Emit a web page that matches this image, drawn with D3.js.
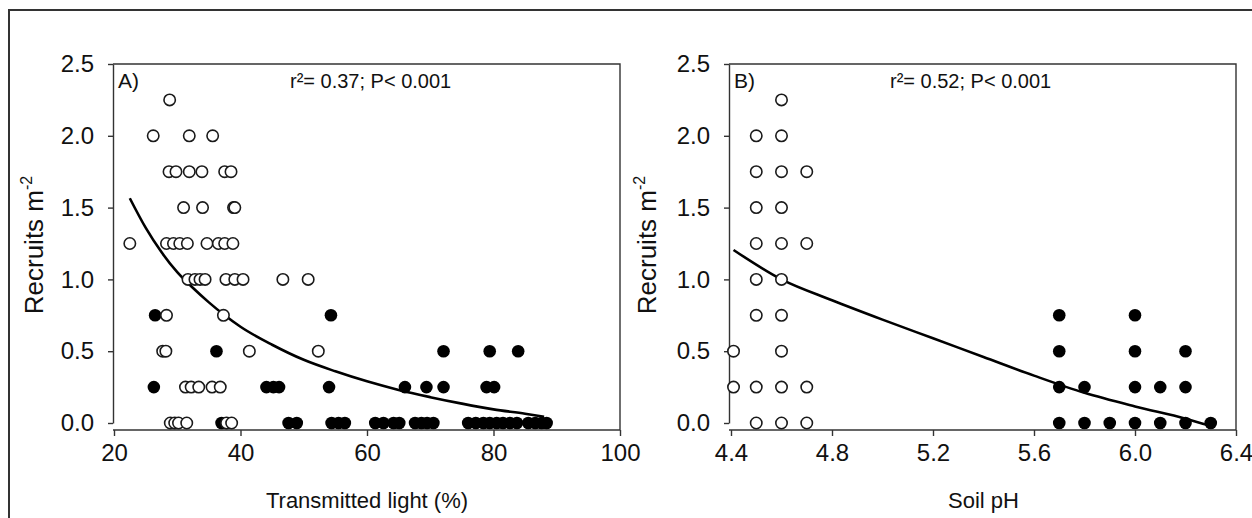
<!DOCTYPE html>
<html>
<head>
<meta charset="utf-8">
<script src="https://cdn.jsdelivr.net/npm/d3@7"></script>
<style>
  body { margin: 0; background: #fff; }
  svg { display: block; font-family: "Liberation Sans", Arial, sans-serif; }
</style>
</head>
<body>
<div id="chart"></div>
<script>
// --- values ---
const yTicks = [0, 0.5, 1.0, 1.5, 2.0, 2.5];
const lightTicks = [20, 40, 60, 80, 100];
const phTicks = [4.4, 4.8, 5.2, 5.6, 6.0, 6.4];

// panel A: transmitted light (%) vs recruits
const lightOpen = [
    [28.8, 2.25],
    [26.2, 2.0], [31.9, 2.0], [35.6, 2.0],
    [28.7, 1.75], [29.8, 1.75], [31.9, 1.75], [33.9, 1.75], [37.5, 1.75], [38.5, 1.75],
    [31.0, 1.5], [34.0, 1.5], [38.9, 1.5], [39.1, 1.5],
    [22.5, 1.25], [28.3, 1.25], [29.4, 1.25], [30.4, 1.25], [31.6, 1.25], [34.7, 1.25], [36.5, 1.25], [37.5, 1.25], [38.8, 1.25],
    [31.7, 1.0], [32.8, 1.0], [33.6, 1.0], [34.4, 1.0], [37.7, 1.0], [39.1, 1.0], [40.4, 1.0], [46.7, 1.0], [50.7, 1.0],
    [28.3, 0.75], [37.3, 0.75],
    [27.7, 0.5], [28.2, 0.5], [41.4, 0.5], [52.3, 0.5],
    [31.3, 0.25], [32.2, 0.25], [33.4, 0.25], [35.5, 0.25], [36.8, 0.25],
    [28.9, 0], [29.6, 0], [30.2, 0], [31.5, 0], [37.8, 0], [38.6, 0]
];
const lightFilled = [
    [26.5, 0.75], [54.3, 0.75],
    [36.2, 0.5], [72.1, 0.5], [79.4, 0.5], [83.9, 0.5],
    [26.3, 0.25], [44.1, 0.25], [45.2, 0.25], [46.1, 0.25], [54.0, 0.25], [66.0, 0.25], [69.4, 0.25], [72.1, 0.25], [78.9, 0.25], [80.1, 0.25],
    [37.0, 0], [47.6, 0], [48.9, 0], [54.4, 0], [55.5, 0], [56.5, 0], [61.3, 0], [62.6, 0], [64.2, 0], [65.1, 0],
    [67.6, 0], [68.6, 0], [69.5, 0], [70.5, 0], [76.0, 0], [77.2, 0], [78.4, 0], [79.4, 0], [80.5, 0], [81.5, 0],
    [82.6, 0], [83.7, 0], [85.5, 0], [86.6, 0], [87.6, 0], [88.4, 0]
];
const lightFit = [
    [22.5, 1.565], [25, 1.36], [27.5, 1.19], [30, 1.05], [32.5, 0.94], [35, 0.84], [37.5, 0.75], [40, 0.67],
    [45, 0.545], [50, 0.44], [55, 0.36], [60, 0.29], [65, 0.23], [70, 0.18], [75, 0.135], [80, 0.095], [85, 0.065], [88, 0.044]
];

// panel B: soil pH vs recruits
const phOpen = [
    [4.6, 2.25], [4.5, 2.0], [4.6, 2.0], [4.5, 1.75], [4.6, 1.75], [4.7, 1.75],
    [4.5, 1.5], [4.6, 1.5], [4.5, 1.25], [4.6, 1.25], [4.7, 1.25], [4.5, 1.0], [4.6, 1.0],
    [4.5, 0.75], [4.6, 0.75], [4.41, 0.5], [4.6, 0.5],
    [4.41, 0.25], [4.5, 0.25], [4.6, 0.25], [4.7, 0.25], [4.5, 0], [4.6, 0], [4.7, 0]
];
const phFilled = [
    [5.7, 0.75], [6.0, 0.75], [5.7, 0.5], [6.0, 0.5], [6.2, 0.5],
    [5.7, 0.25], [5.8, 0.25], [6.0, 0.25], [6.1, 0.25], [6.2, 0.25],
    [5.7, 0], [5.8, 0], [5.9, 0], [6.0, 0], [6.1, 0], [6.2, 0], [6.3, 0]
];
const phFit = [
    [4.41, 1.205], [4.6, 1.0], [4.8, 0.855], [5.0, 0.72], [5.2, 0.59], [5.4, 0.46],
    [5.6, 0.33], [5.8, 0.21], [6.0, 0.115], [6.2, 0.03], [6.3, -0.02]
];

const width = 1252, height = 518;
const plotTop = 64, zeroY = 423, xAxisY = 430;

const svg = d3.select("#chart")
    .append("svg")
    .attr("width", width)
    .attr("height", height);

svg.append("rect")
    .attr("width", width)
    .attr("height", height)
    .attr("fill", "#fff");

// outer frame of the figure
svg.append("rect")
    .attr("x", 9)
    .attr("y", 10)
    .attr("width", width + 20)
    .attr("height", height + 20)
    .attr("fill", "none")
    .attr("stroke", "#333")
    .attr("stroke-width", 2);

const y = d3.scaleLinear().domain([0, 2.5]).range([zeroY, plotTop]);

const drawPanel = (cfg) => {
    const x = d3.scaleLinear().domain(cfg.domain).range(cfg.range);
    const g = svg.append("g");
    const left = cfg.axisX, right = cfg.range[1];

    // box lines (top and right)
    g.append("path")
        .attr("d", `M${left},${plotTop}H${right}V${xAxisY}`)
        .attr("fill", "none")
        .attr("stroke", "#333")
        .attr("stroke-width", 1.4);

    // y axis
    const yAxis = g.append("g")
        .attr("transform", `translate(${left},0)`)
        .call(d3.axisLeft(y).tickValues(yTicks).tickFormat(d3.format(".1f"))
            .tickSize(5).tickSizeOuter(0).tickPadding(14));

    // x axis
    const xAxis = g.append("g")
        .attr("transform", `translate(0,${xAxisY})`)
        .call(d3.axisBottom(x).tickValues(cfg.ticks).tickFormat(cfg.format)
            .tickSize(6).tickSizeOuter(0).tickPadding(8));

    [yAxis, xAxis].forEach(a => {
        a.selectAll("path, line").attr("stroke", "#333").attr("stroke-width", 1.4);
        a.selectAll("text").attr("fill", "#111").style("font-size", "24px")
            .style("font-family", "'Liberation Sans', Arial, sans-serif");
    });
    xAxis.select(".domain").attr("d", `M${left},0H${right}`);

    // fitted curve
    const line = d3.line()
        .x(d => x(d[0]))
        .y(d => y(d[1]))
        .curve(d3.curveMonotoneX);

    g.append("path")
        .datum(cfg.fit)
        .attr("d", line)
        .attr("fill", "none")
        .attr("stroke", "#000")
        .attr("stroke-width", 2.6);

    // filled first, open circles drawn on top
    g.selectAll(".filled")
        .data(cfg.filled)
        .join("circle")
        .attr("class", "filled")
        .attr("cx", d => x(d[0]))
        .attr("cy", d => y(d[1]))
        .attr("r", 6.3)
        .attr("fill", "#000");

    g.selectAll(".open")
        .data(cfg.open)
        .join("circle")
        .attr("class", "open")
        .attr("cx", d => x(d[0]))
        .attr("cy", d => y(d[1]))
        .attr("r", 5.7)
        .attr("fill", "#fff")
        .attr("stroke", "#1a1a1a")
        .attr("stroke-width", 1.6);

    // panel letter + stats
    g.append("text")
        .attr("x", left + 5)
        .attr("y", 88)
        .style("font-size", "21px")
        .attr("fill", "#111")
        .text(cfg.letter);

    g.append("text")
        .attr("x", cfg.statX)
        .attr("y", 88)
        .style("font-size", "20px")
        .attr("fill", "#111")
        .text(cfg.stat);

    // axis titles
    g.append("text")
        .attr("x", (cfg.range[0] + right) / 2)
        .attr("y", 508)
        .attr("text-anchor", "middle")
        .style("font-size", "22px")
        .attr("fill", "#111")
        .text(cfg.xTitle);

    const yt = g.append("text")
        .attr("transform", `translate(${cfg.yTitleX},245) rotate(-90)`)
        .attr("text-anchor", "middle")
        .style("font-size", "26px")
        .attr("fill", "#111");
    yt.append("tspan").text("Recruits m");
    yt.append("tspan").attr("dy", -11).style("font-size", "16px").text("-2");
};

drawPanel({
    domain: [20, 100], range: [114, 620], axisX: 113,
    ticks: lightTicks, format: d3.format("d"),
    open: lightOpen, filled: lightFilled, fit: lightFit,
    letter: "A)", stat: "r²= 0.37; P< 0.001", statX: 290,
    xTitle: "Transmitted light (%)", yTitleX: 43
});

drawPanel({
    domain: [4.4, 6.4], range: [731, 1236], axisX: 729,
    ticks: phTicks, format: d3.format(".1f"),
    open: phOpen, filled: phFilled, fit: phFit,
    letter: "B)", stat: "r²= 0.52; P< 0.001", statX: 890,
    xTitle: "Soil pH", yTitleX: 656
});
</script>
</body>
</html>
